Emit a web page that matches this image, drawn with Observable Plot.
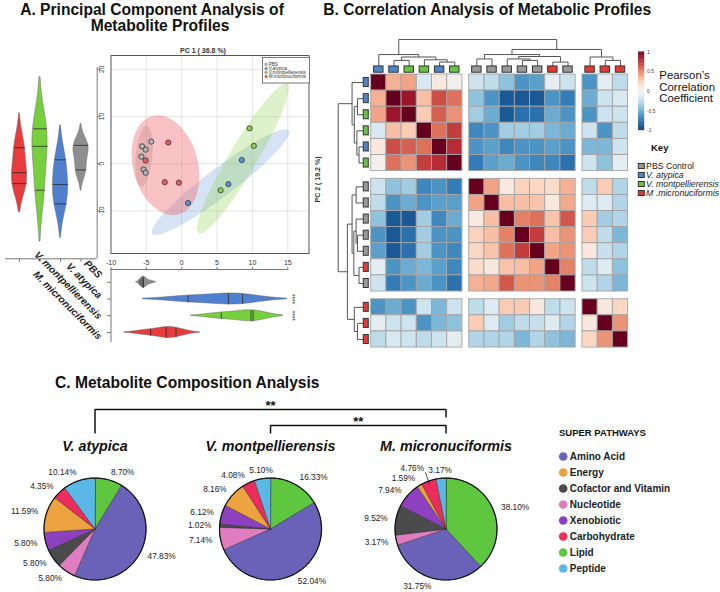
<!DOCTYPE html>
<html><head><meta charset="utf-8">
<script src="https://cdn.jsdelivr.net/npm/d3@7"></script>
<script src="https://cdn.jsdelivr.net/npm/@observablehq/plot@0.6"></script>
<style>
html,body{margin:0;padding:0;background:#fff;}
#fig{position:relative;width:720px;height:592px;overflow:hidden;background:#fff;}
</style></head><body><div id="fig"></div>
<script>
// ================= DATA =================
const groups = ["PBS", "V. atypica", "V. montpellierensis", "M. micronuciformis"];
// PCA scores (PC1, PC2) per group
const pbsPC1 = [-5.6, -5.1, -4.3, -5.7, -5.4, -5.1];
const pbsPC2 = [3.7, 3.0, 4.7, 1.5, -1.2, -1.9];
const atypicaPC1 = [0.9, 6.6, 8.5];
const atypicaPC2 = [-8.3, -4.3, 0.8];
const montPC1 = [5.5, 9.6, 10.2];
const montPC2 = [-5.6, 7.5, 3.8];
const microPC1 = [-5.1, -1.9, -2.4, -0.4];
const microPC2 = [0.7, 4.5, -3.9, -4.0];
// violin inner (quartile) lines as read
const pbsPC2Lines = [3.9, -1.3];
const atypicaPC2Lines = [0.85, -4.4, -8.5];
const montPC2Lines = [7.4, 3.7, -5.6];
const microPC2Lines = [3.4, -1.9, -4.2];
const pbsPC1Lines = [-5.9, -5.6, -5.4];
const atypicaPC1Lines = [0.9, 6.6, 8.6];
const montPC1Lines = [5.6, 9.8, 10.1];
const microPC1Lines = [-4.4, -2.2, -0.8];
const pc1Significance = ["", "****", "****", ""];
// 95% ellipses: center x, center y, conjugate semi-axis u (x,y), v (x,y)
const ellipsePBS = [-5.35, 1.57, 0.4, 6.5, 1.17, -0.16];
const ellipseAtypica = [5.47, -3.89, 9.66, 10.95, 1.19, -2.37];
const ellipseMont = [8.65, 1.13, 6.25, 15.83, 1.70, -1.51];
const ellipseMicro = [-2.3, -0.3, -1.9, 10.4, 4.4, 1.9];
const scatterLegendLabels = ["PBS", "V.atypica", "V.montpellierensis", "M.micronuciformis"];

// Correlation heatmap (clustered order)
const sampleGroups = ["V. atypica","V. atypica","V. montpellierensis","V. montpellierensis","V. atypica","V. montpellierensis",
  "PBS","PBS","PBS","PBS","PBS","M. micronuciformis","PBS","M. micronuciformis","M. micronuciformis","M. micronuciformis"];
const sampleBlocks = [0,0,0,0,0,0,1,1,1,1,1,1,1,2,2,2];
const corr = [
 [1,0.35,0.4,-0.15,0.1,0.0,-0.2,-0.25,-0.4,-0.6,-0.55,-0.1,-0.2,-0.6,-0.1,-0.25],
 [0.35,1,0.85,0.3,0.65,0.55,-0.4,-0.6,-0.85,-0.85,-0.85,-0.6,-0.7,-0.5,-0.2,-0.15],
 [0.4,0.85,1,0.25,0.6,0.45,-0.35,-0.5,-0.85,-0.75,-0.75,-0.5,-0.6,-0.6,-0.2,-0.2],
 [-0.15,0.3,0.25,1,0.55,0.7,-0.65,-0.6,-0.35,-0.35,-0.35,-0.45,-0.5,-0.2,-0.6,-0.25],
 [0.1,0.65,0.6,0.55,1,0.75,-0.6,-0.55,-0.65,-0.6,-0.6,-0.55,-0.6,-0.45,-0.45,-0.2],
 [0.0,0.55,0.45,0.7,0.75,1,-0.7,-0.55,-0.5,-0.6,-0.65,-0.65,-0.75,-0.2,-0.4,-0.1],
 [-0.2,-0.4,-0.35,-0.65,-0.6,-0.7,1,0.4,0.08,0.22,0.2,0.18,0.35,-0.25,0.25,-0.3],
 [-0.25,-0.6,-0.5,-0.6,-0.55,-0.55,0.4,1,0.3,0.3,0.28,0.1,0.38,-0.12,-0.12,-0.3],
 [-0.4,-0.85,-0.85,-0.35,-0.65,-0.5,0.08,0.3,1,0.5,0.55,0.28,0.62,0.25,-0.35,-0.3],
 [-0.6,-0.85,-0.75,-0.35,-0.6,-0.6,0.22,0.3,0.5,1,0.7,0.3,0.45,0.25,-0.25,-0.45],
 [-0.55,-0.85,-0.75,-0.35,-0.6,-0.65,0.2,0.28,0.55,0.7,1,0.4,0.45,0.1,-0.22,-0.3],
 [-0.1,-0.6,-0.5,-0.45,-0.55,-0.65,0.18,0.1,0.28,0.3,0.4,1,0.5,-0.25,-0.12,-0.4],
 [-0.2,-0.7,-0.6,-0.5,-0.6,-0.75,0.35,0.38,0.62,0.45,0.45,0.5,1,-0.2,-0.3,-0.45],
 [-0.6,-0.5,-0.6,-0.2,-0.45,-0.2,-0.25,-0.12,0.25,0.25,0.1,-0.25,-0.2,1,0.1,0.2],
 [-0.1,-0.2,-0.2,-0.6,-0.45,-0.4,0.25,-0.12,-0.35,-0.25,-0.22,-0.12,-0.3,0.1,1,0.45],
 [-0.25,-0.15,-0.2,-0.25,-0.2,-0.1,-0.3,-0.3,-0.3,-0.45,-0.3,-0.4,-0.45,0.2,0.45,1]
];
// hierarchical clustering merges: [child a, child b, height]; numbers = leaves, "mK" = merge K
const merges = [
 [1, 2, 0.14], [4, 5, 0.07], [3, "m1", 0.165], ["m0", "m2", 0.28], [0, "m3", 0.38],
 [6, 7, 0.20], [9, 10, 0.14], [8, "m6", 0.20], [11, 12, 0.07], ["m7", "m8", 0.30],
 ["m5", "m9", 0.38], [14, 15, 0.14], [13, "m11", 0.28], ["m10", "m12", 0.59], ["m4", "m13", 1.0]
];
const colorbarTicks = [1, 0.5, 0, -0.5, -1];
const keyLabels = ["PBS Control", "V. atypica", "V. montpellierensis", "M .micronuciformis"];

// Pie charts
const pathways = ["Amino Acid","Energy","Cofactor and Vitamin","Nucleotide","Xenobiotic","Carbohydrate","Lipid","Peptide"];
const sliceOrder = ["Lipid","Amino Acid","Nucleotide","Cofactor and Vitamin","Xenobiotic","Energy","Carbohydrate","Peptide"];
const speciesPies = ["V. atypica", "V. montpellierensis", "M. micronuciformis"];
const atypicaPct = [47.83, 11.59, 5.80, 5.80, 5.80, 4.35, 8.70, 10.14];
const montPct = [52.04, 8.16, 1.02, 7.14, 6.12, 4.08, 16.33, 5.10];
const microPct = [31.75, 1.59, 9.52, 3.17, 7.94, 4.76, 38.10, 3.17];
const pieComparisons = [["V. atypica", "M. micronuciformis", "**"], ["V. montpellierensis", "M. micronuciformis", "**"]];

// ================= STYLE =================
const FONT = "'Liberation Sans', Arial, Helvetica, sans-serif";
const scatterColors = ["#b4b4b4", "#5b93d6", "#8fd14f", "#ee5a5f"];
const violinColors = ["#8e8e8e", "#4f7fcf", "#78cf3e", "#e73b3d"];
const keyColors = ["#9a9a9a", "#4f86c8", "#69c440", "#e23a35"];
const pathwayColors = ["#6a62b8", "#eba23f", "#4b4b4b", "#e07cc0", "#8d40c0", "#ed2c5c", "#5fc640", "#5bb8e6"];

const fig = document.getElementById("fig");
function put(node, left, top) {
  node.style.position = "absolute"; node.style.left = left + "px"; node.style.top = top + "px";
  fig.appendChild(node); return node;
}
const STYLE = {background: "transparent", fontFamily: FONT, overflow: "visible", fontSize: "7px", color: "#222"};

const pc1Of = {"PBS": pbsPC1, "V. atypica": atypicaPC1, "V. montpellierensis": montPC1, "M. micronuciformis": microPC1};
const pc2Of = {"PBS": pbsPC2, "V. atypica": atypicaPC2, "V. montpellierensis": montPC2, "M. micronuciformis": microPC2};
const pc1LinesOf = {"PBS": pbsPC1Lines, "V. atypica": atypicaPC1Lines, "V. montpellierensis": montPC1Lines, "M. micronuciformis": microPC1Lines};
const pc2LinesOf = {"PBS": pbsPC2Lines, "V. atypica": atypicaPC2Lines, "V. montpellierensis": montPC2Lines, "M. micronuciformis": microPC2Lines};
const ellipseOf = {"PBS": ellipsePBS, "V. atypica": ellipseAtypica, "V. montpellierensis": ellipseMont, "M. micronuciformis": ellipseMicro};

// Gaussian KDE, Scott bandwidth, cut = 2 (seaborn default)
function kde(vals) {
  const bw = d3.deviation(vals) * Math.pow(vals.length, -0.2);
  const lo = d3.min(vals) - 2 * bw, hi = d3.max(vals) + 2 * bw;
  const f = x => d3.mean(vals, v => Math.exp(-0.5 * ((x - v) / bw) ** 2));
  const grid = d3.range(141).map(i => lo + (hi - lo) * i / 140);
  const mx = d3.max(grid, f);
  return {grid, w: x => f(x) / mx};
}

// ================= PANEL A: scatter =================
const points = [];
groups.forEach(g => pc1Of[g].forEach((x, i) => points.push({group: g, x, y: pc2Of[g][i]})));
const ellipsePts = [];
["M. micronuciformis", "PBS", "V. atypica", "V. montpellierensis"].forEach(g => {
  const [cx, cy, ux, uy, vx, vy] = ellipseOf[g];
  d3.range(0, 73).forEach(k => {
    const t = k / 72 * 2 * Math.PI;
    ellipsePts.push({group: g, x: cx + ux * Math.cos(t) + vx * Math.sin(t), y: cy + uy * Math.cos(t) + vy * Math.sin(t)});
  });
});
const ellOp = {"PBS": 0.42, "V. atypica": 0.26, "V. montpellierensis": 0.3, "M. micronuciformis": 0.36};
put(Plot.plot({
  width: 250, height: 230, marginLeft: 30.5, marginRight: 21.5, marginTop: 15, marginBottom: 17,
  style: STYLE,
  x: {domain: [-10, 18], axis: null, label: null},
  y: {domain: [-19.0, 22.94], axis: null, label: null},
  color: {domain: groups, range: scatterColors},
  marks: [
    Plot.gridX([-5, 0, 5, 10, 15], {stroke: "#000", strokeOpacity: 0.1}),
    Plot.gridY([-10, 0, 10, 20], {stroke: "#000", strokeOpacity: 0.1}),
    ...Object.keys(ellOp).map(g => Plot.line(ellipsePts.filter(d => d.group === g),
      {x: "x", y: "y", fill: "group", fillOpacity: ellOp[g], stroke: "none", curve: "linear-closed"})),
    Plot.dot(points, {x: "x", y: "y", fill: "group", stroke: "#333", strokeWidth: 0.8, r: 2.6}),
    Plot.frame({stroke: "#555"}),
    Plot.text(["PC 1 ( 36.8 %)"], {frameAnchor: "top", dx: -7, dy: -7.5, fontSize: 7, fontWeight: "bold", fill: "#333"}),
    Plot.text(["PC 2 ( 19.2 %)"], {frameAnchor: "right", dx: 8.5, dy: 2, rotate: -90, fontSize: 7, fontWeight: "bold", fill: "#333"})
  ]
}), 80, 40);

// scatter legend
put(Plot.plot({
  width: 47, height: 25.5, margin: 0, style: STYLE,
  x: {domain: [0, 47], axis: null, label: null},
  y: {type: "point", domain: groups, range: [3.8, 21.6], axis: null, label: null},
  color: {domain: groups, range: scatterColors},
  marks: [
    Plot.frame({stroke: "#777", fill: "white"}),
    Plot.dot(groups, {x: 3.6, y: d => d, fill: d => d, stroke: "#555", strokeWidth: 0.4, r: 1.3}),
    Plot.text(groups, {x: 6.2, y: d => d, text: (d, i) => scatterLegendLabels[i], textAnchor: "start", fontSize: 4.6, fill: "#333"})
  ]
}), 261.5, 56.5);

// ================= PANEL A: left violins (PC2) =================
const leftOrder = ["M. micronuciformis", "V. montpellierensis", "V. atypica", "PBS"];
const LV_HW = 0.37;
const leftArea = [], leftLines = [];
leftOrder.forEach((g, pos) => {
  const k = kde(pc2Of[g]);
  k.grid.forEach(v => leftArea.push({group: g, pos, value: v, w: k.w(v)}));
  pc2LinesOf[g].forEach(v => leftLines.push({group: g, pos, value: v, w: k.w(v)}));
});
const lvY = ypx => 22.94 - (ypx - 55) / 4.72;   // page px -> data
const lvX = xpx => -0.927 + xpx / 20.5;
const LV_BOT = -20.13, LV_R = 3.79;
put(Plot.plot({
  width: 115, height: 290, marginTop: 0, marginLeft: 0, marginRight: 18.3, marginBottom: 86.7,
  style: STYLE,
  x: {domain: [-0.927, LV_R], axis: null, label: null},
  y: {domain: [LV_BOT, 22.94], axis: null, label: null},
  color: {domain: groups, range: violinColors},
  marks: [
    Plot.areaX(leftArea, {y: "value", x1: d => d.pos - d.w * LV_HW, x2: d => d.pos + d.w * LV_HW, z: "group", fill: "group", stroke: "#666", strokeWidth: 0.5}),
    Plot.link(leftLines, {x1: d => d.pos - d.w * LV_HW, x2: d => d.pos + d.w * LV_HW, y1: "value", y2: "value", stroke: "#2a2a2a", strokeWidth: 0.8}),
    Plot.ruleX([LV_R], {y1: LV_BOT, y2: 20.4, stroke: "#777"}),
    Plot.ruleY([LV_BOT], {x1: lvX(5), x2: LV_R, stroke: "#777"}),
    Plot.link([-10, 0, 10, 20], {x1: LV_R, x2: LV_R + 3 / 20.5, y1: d => d, y2: d => d, stroke: "#777"}),
    Plot.text([-10, 0, 10, 20], {x: lvX(101), y: d => d, text: d => String(d), rotate: -90, fontSize: 6.5, fill: "#333"}),
    Plot.link([0, 1, 2, 3], {x1: d => d, x2: d => d, y1: LV_BOT, y2: LV_BOT - 3 / 4.72, stroke: "#777"}),
    Plot.text(leftOrder, {
      x: lvX(97.5), y: (d, i) => lvY(261.3 + (97.5 - (19 + 20.5 * i))),
      text: d => d, rotate: 45, textAnchor: "end", lineAnchor: "bottom",
      fontWeight: "bold", fontStyle: "italic", fontSize: 10, fill: "#222"
    })
  ]
}), 0, 55);

// ================= PANEL A: bottom violins (PC1) =================
const BV_HW = 0.33;
const bottomArea = [], bottomLines = [];
groups.forEach((g, pos) => {
  const k = kde(pc1Of[g]);
  k.grid.forEach(v => bottomArea.push({group: g, pos, value: v, w: k.w(v)}));
  pc1LinesOf[g].forEach(v => bottomLines.push({group: g, pos, value: v, w: k.w(v)}));
});
put(Plot.plot({
  width: 240, height: 89, marginLeft: 30.5, marginRight: 11.5, marginTop: 14, marginBottom: 2,
  style: STYLE,
  x: {domain: [-10, 18], axis: null, label: null},
  y: {domain: [-0.762, 3.6], reverse: true, axis: null, label: null},
  color: {domain: groups, range: violinColors},
  marks: [
    Plot.areaY(bottomArea, {x: "value", y1: d => d.pos - d.w * BV_HW, y2: d => d.pos + d.w * BV_HW, z: "group", fill: "group", stroke: "#666", strokeWidth: 0.5}),
    Plot.link(bottomLines, {y1: d => d.pos - d.w * BV_HW, y2: d => d.pos + d.w * BV_HW, x1: "value", x2: "value", stroke: "#2a2a2a", strokeWidth: 0.8}),
    Plot.ruleX([-10], {y1: -0.762, y2: 3.6, stroke: "#777"}),
    Plot.ruleY([-0.762], {x1: -10, x2: 15, stroke: "#777"}),
    Plot.axisX({anchor: "top", ticks: [-10, -5, 0, 5, 10, 15], tickSize: 3, tickPadding: 1.5, tickFormat: d => String(d), fontSize: 7, stroke: "#777", fill: "#333", label: null}),
    Plot.link([0, 1, 2, 3], {y1: d => d, y2: d => d, x1: -10, x2: -10 - 4 / 7.07, stroke: "#777"}),
    Plot.text(pc1Significance.map((s, i) => ({s, i})).filter(d => d.s), {x: 15.63, y: "i", text: "s", rotate: 90, fontSize: 6.5, fill: "#333"})
  ]
}), 80, 255);

// ================= PANEL B: heatmap =================
const gapX = 0.45, gapY = 0.48;
const colPos = j => j + gapX * sampleBlocks[j];
const rowPos = i => i + gapY * sampleBlocks[i];
const BX = [-3.007, 22.98], BY = [-2.733, 17.143];
const cells = [];
corr.forEach((row, i) => row.forEach((r, j) => cells.push({i, j, r})));
const CORR_COLOR = {type: "linear", scheme: "RdBu", reverse: true, domain: [-1, 1]};
put(Plot.plot({
  width: 395, height: 320, margin: 0, style: STYLE,
  x: {domain: BX, axis: null, label: null},
  y: {domain: BY, reverse: true, axis: null, label: null},
  color: CORR_COLOR,
  marks: [
    Plot.rect(cells, {x1: d => colPos(d.j), x2: d => colPos(d.j) + 1, y1: d => rowPos(d.i), y2: d => rowPos(d.i) + 1, fill: "r", stroke: "#a4a4a4", strokeWidth: 0.9})
  ]
}), 325, 30);

// dendrograms
function dendroSegments(positionOfLeaf) {
  const nodes = [], segs = [];
  const get = ref => typeof ref === "number" ? {pos: positionOfLeaf(ref), h: null} : nodes[+ref.slice(1)];
  merges.forEach(([a, b, h]) => {
    const A = get(a), B = get(b);
    segs.push({p1: A.pos, p2: B.pos, h1: h, h2: h});
    segs.push({p1: A.pos, p2: A.pos, h1: h, h2: A.h});
    segs.push({p1: B.pos, p2: B.pos, h1: h, h2: B.h});
    nodes.push({pos: (A.pos + B.pos) / 2, h});
  });
  return segs;
}
const topSegs = dendroSegments(j => colPos(j) + 0.5);
const leftSegs = dendroSegments(i => rowPos(i) + 0.5);
const topH = h => h == null ? -0.5 : -0.665 - h * 1.51;
const leftH = h => h == null ? -0.49 : -0.70 - h * 1.47;
put(Plot.plot({
  width: 395, height: 320, margin: 0, style: STYLE,
  x: {domain: BX, axis: null, label: null},
  y: {domain: BY, reverse: true, axis: null, label: null},
  color: {domain: groups, range: keyColors},
  marks: [
    Plot.link(topSegs, {x1: "p1", x2: "p2", y1: d => topH(d.h1), y2: d => topH(d.h2), stroke: "#555", strokeWidth: 1}),
    Plot.link(leftSegs, {y1: "p1", y2: "p2", x1: d => leftH(d.h1), x2: d => leftH(d.h2), stroke: "#555", strokeWidth: 1}),
    Plot.rect(sampleGroups, {x1: (d, j) => colPos(j) + 0.5 - 0.31, x2: (d, j) => colPos(j) + 0.5 + 0.31, y1: -0.5, y2: -0.11, fill: d => d, stroke: "#333", strokeWidth: 1}),
    Plot.rect(sampleGroups, {y1: (d, i) => rowPos(i) + 0.5 - 0.28, y2: (d, i) => rowPos(i) + 0.5 + 0.28, x1: -0.49, x2: -0.16, fill: d => d, stroke: "#333", strokeWidth: 1})
  ]
}), 325, 30);

// colour bar
const barSteps = d3.range(-1, 1, 0.02);
put(Plot.plot({
  width: 30, height: 92, marginTop: 6.7, marginBottom: 7, marginLeft: 8.3, marginRight: 16, style: STYLE,
  x: {domain: [0, 1], axis: null, label: null},
  y: {domain: [-1, 1], axis: null, label: null},
  color: CORR_COLOR,
  marks: [
    Plot.rect(barSteps, {x1: 0, x2: 1, y1: d => d, y2: d => d + 0.02, fill: d => d + 0.01, stroke: d => d + 0.01, strokeWidth: 0.3}),
    Plot.text(colorbarTicks, {x: 1, y: d => d, dx: 2.5, text: d => String(d), textAnchor: "start", fontSize: 5, fill: "#6a2a2a"})
  ]
}), 630, 45);

// key legend
put(Plot.plot({
  width: 90, height: 66, margin: 0, style: STYLE,
  x: {domain: [0, 90], axis: null, label: null},
  y: {type: "point", domain: groups, range: [19.7, 59], axis: null, label: null},
  color: {domain: groups, range: keyColors},
  marks: [
    Plot.rect(groups, {x1: 8.3, x2: 14.3, y1: d => d, y2: d => d, insetTop: -2.5, insetBottom: -2.5, fill: d => d, stroke: "#333", strokeWidth: 1}),
    Plot.text(groups.slice(0, 1), {x: 15.6, y: d => d, text: (d, i) => keyLabels[0], textAnchor: "start", fontSize: 8.7, fill: "#222"}),
    Plot.text(groups.slice(1), {x: 15.6, y: d => d, text: (d, i) => keyLabels[i + 1], textAnchor: "start", fontSize: 8.7, fontStyle: "italic", fill: "#222"})
  ]
}), 630, 140);

// ================= PANEL C: pies =================
const pctOf = {"V. atypica": atypicaPct, "V. montpellierensis": montPct, "M. micronuciformis": microPct};
const STEP = 175.5 / 51;
const sliceVerts = [], circleVerts = [], pieLabels = [];
const LABEL_FS = 8.3;
speciesPies.forEach((sp, k) => {
  const cx = k * STEP;
  const pct = pctOf[sp];
  let cum = 0;
  const placed = [];
  sliceOrder.forEach(pw => {
    const p = pct[pathways.indexOf(pw)];
    const a0 = cum / 100 * 2 * Math.PI; cum += p; const a1 = cum / 100 * 2 * Math.PI;
    const key = sp + "|" + pw;
    const n = Math.max(2, Math.ceil((a1 - a0) / (Math.PI / 180)));
    sliceVerts.push({key, pathway: pw, x: cx, y: 0});
    for (let t = 0; t <= n; t++) {
      const a = a0 + (a1 - a0) * t / n;
      sliceVerts.push({key, pathway: pw, x: cx + Math.sin(a), y: Math.cos(a)});
    }
    const am = (a0 + a1) / 2, s = Math.sin(am), c = Math.cos(am);
    const anchor = s > 0.2 ? "start" : s < -0.2 ? "end" : "middle";
    const text = p.toFixed(2) + "%";
    const wU = text.length * 0.57 * LABEL_FS / 51, hU = 8.6 / 51;
    const box = R => {
      const x = cx + s * R, y = c * R;
      const x0 = anchor === "start" ? x : anchor === "end" ? x - wU : x - wU / 2;
      return [x0, x0 + wU, y - hU / 2, y + hU / 2];
    };
    let R = 1.16, leader = false, b = box(R);
    while (placed.some(q => b[0] < q[1] && q[0] < b[1] && b[2] < q[3] && q[2] < b[3])) { R += 0.05; b = box(R); leader = true; }
    placed.push(b);
    pieLabels.push({x: cx + s * R, y: c * R, text, anchor, leader,
      lx1: cx + s * 0.95, ly1: c * 0.95, lx2: cx + s * (R - 0.08), ly2: c * (R - 0.08)});
  });
  d3.range(0, 361, 2).forEach(d => {
    const a = d / 180 * Math.PI;
    circleVerts.push({pie: sp, x: cx + Math.sin(a), y: Math.cos(a)});
  });
});
// comparison brackets (layout levels in radius units above pie centres)
const bracketLevels = [[2.343, 1.873, 2.186], [2.029, 1.873, 1.873]];
const bracketVerts = [], bracketStars = [];
pieComparisons.forEach(([a, b, star], k) => {
  const xa = speciesPies.indexOf(a) * STEP, xb = speciesPies.indexOf(b) * STEP;
  const [top, endA, endB] = bracketLevels[k];
  bracketVerts.push({k, x: xa, y: endA}, {k, x: xa, y: top}, {k, x: xb, y: top}, {k, x: xb, y: endB});
  bracketStars.push({x: (xa + xb) / 2, y: top + 0.075, star});
});
put(Plot.plot({
  width: 540, height: 197, margin: 0, style: STYLE,
  x: {domain: [-1.853, 8.735], axis: null, label: null},
  y: {domain: [-1.245, 2.618], axis: null, label: null},
  color: {domain: pathways, range: pathwayColors},
  marks: [
    Plot.line(sliceVerts, {x: "x", y: "y", z: "key", fill: "pathway", stroke: "#2a2a2a", strokeWidth: 0.5, curve: "linear-closed"}),
    Plot.line(circleVerts, {x: "x", y: "y", z: "pie", stroke: "#111", strokeWidth: 1.2, curve: "linear-closed"}),
    Plot.link(pieLabels.filter(d => d.leader), {x1: "lx1", y1: "ly1", x2: "lx2", y2: "ly2", stroke: "#222", strokeWidth: 0.8}),
    ...["start", "end", "middle"].map(an => Plot.text(pieLabels.filter(d => d.anchor === an),
      {x: "x", y: "y", text: "text", textAnchor: an, fontSize: LABEL_FS, fill: "#222"})),
    Plot.text(speciesPies, {x: (d, i) => i * STEP, y: 1.539, text: d => d, lineAnchor: "bottom", fontWeight: "bold", fontStyle: "italic", fontSize: 14.3, fill: "#111"}),
    Plot.line(bracketVerts, {x: "x", y: "y", z: "k", stroke: "#111", strokeWidth: 1.5, strokeLinecap: "butt", strokeLinejoin: "miter"}),
    Plot.text(bracketStars, {x: "x", y: "y", text: "star", fontSize: 13, fontWeight: "bold", fill: "#111"})
  ]
}), 0, 395);

// pathway legend
put(Plot.plot({
  width: 170, height: 167, margin: 0, style: STYLE,
  x: {domain: [0, 170], axis: null, label: null},
  y: {type: "point", domain: pathways, range: [22.3, 151.7], axis: null, label: null},
  color: {domain: pathways, range: pathwayColors},
  marks: [
    Plot.dot(pathways, {x: 12.7, y: d => d, r: 4.3, fill: d => d}),
    Plot.text(pathways, {x: 19.3, y: d => d, text: d => d, textAnchor: "start", fontSize: 10, fontWeight: "bold", fill: "#222"})
  ]
}), 550, 425);

// ================= TITLES / STATIC TEXT =================
const ns = "http://www.w3.org/2000/svg";
const ov = document.createElementNS(ns, "svg");
ov.setAttribute("width", 720); ov.setAttribute("height", 592);
ov.style.position = "absolute"; ov.style.left = "0px"; ov.style.top = "0px"; ov.style.pointerEvents = "none";
ov.setAttribute("font-family", FONT);
function txt(x, y, s, opts = {}) {
  const t = document.createElementNS(ns, "text");
  t.setAttribute("x", x); t.setAttribute("y", y);
  t.setAttribute("font-size", opts.size || 10);
  if (opts.weight) t.setAttribute("font-weight", opts.weight);
  if (opts.anchor) t.setAttribute("text-anchor", opts.anchor);
  t.setAttribute("fill", opts.fill || "#111");
  t.textContent = s; ov.appendChild(t);
}
txt(152, 15, "A. Principal Component Analysis of", {size: 15.6, weight: "bold", anchor: "middle"});
txt(160, 30.5, "Metabolite Profiles", {size: 15.6, weight: "bold", anchor: "middle"});
txt(323.3, 14.5, "B. Correlation Analysis of Metabolic Profiles", {size: 15.6, weight: "bold"});
txt(55, 388.3, "C. Metabolite Composition Analysis", {size: 15.6, weight: "bold"});
txt(659.3, 79, "Pearson’s", {size: 11.4});
txt(659.3, 90.7, "Correlation", {size: 11.4});
txt(659.3, 102.3, "Coefficient", {size: 11.4});
txt(651, 150.5, "Key", {size: 9.5, weight: "bold"});
txt(559, 435.7, "SUPER PATHWAYS", {size: 9.5, weight: "bold"});
fig.appendChild(ov);
</script></body></html>
